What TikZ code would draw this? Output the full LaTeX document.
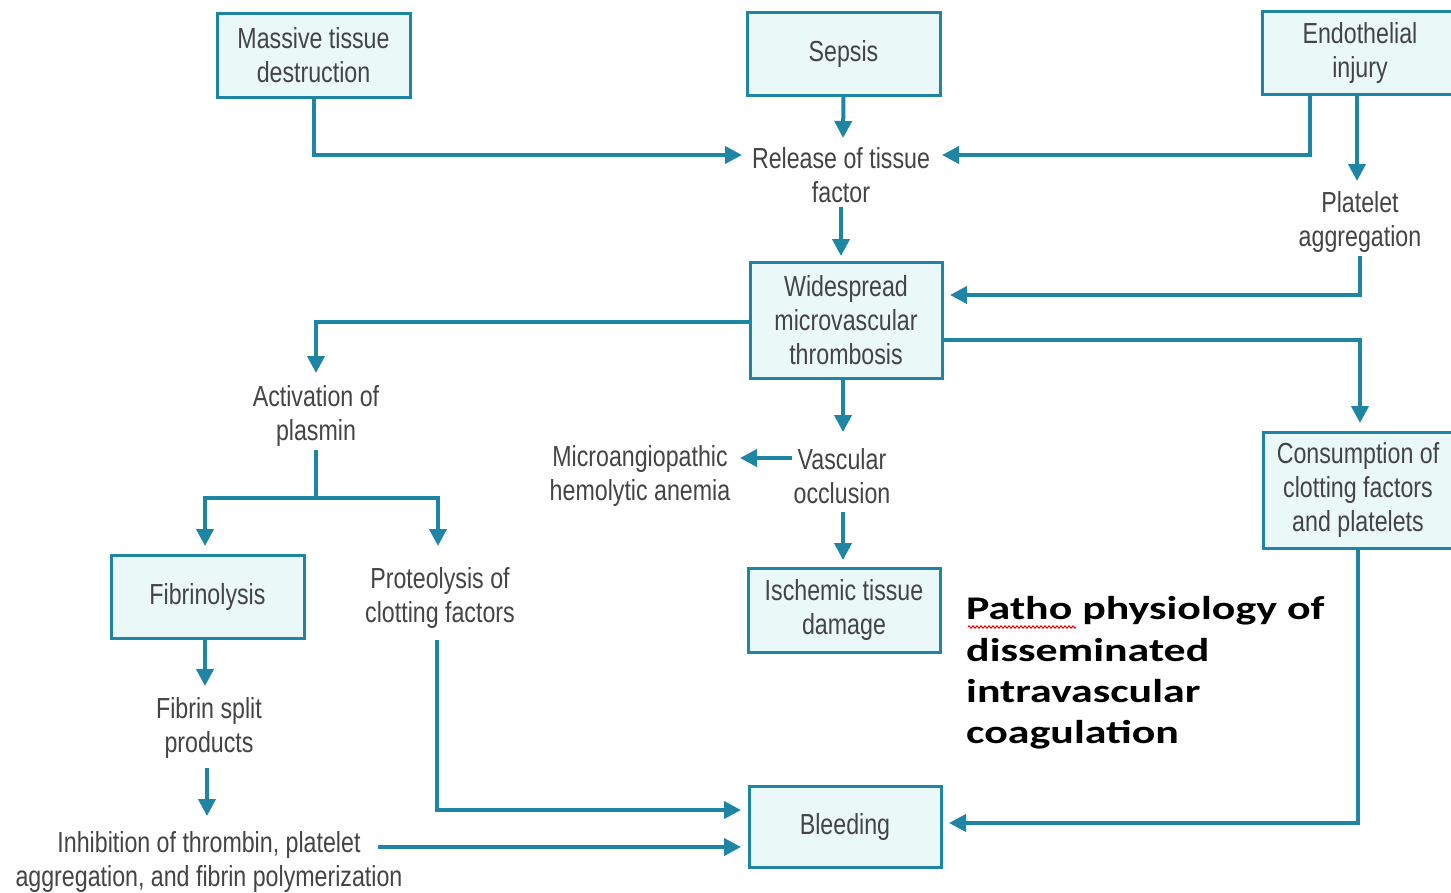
\documentclass[tikz,border=0pt]{standalone}
\usepackage{fontspec}
\usetikzlibrary{arrows.meta,decorations.pathmorphing}
\newfontfamily\bodyfont[FakeStretch=0.8]{Liberation Sans}
\newfontfamily\titlefont[FakeStretch=1.33]{Carlito}
\definecolor{linecol}{RGB}{30,134,164}
\definecolor{boxfill}{RGB}{234,248,248}
\definecolor{txtcol}{RGB}{68,68,68}
\begin{document}
\begin{tikzpicture}[x=1pt,y=-1pt,
  box/.style={draw=linecol,line width=3pt,fill=boxfill,inner sep=0pt,align=center,text=txtcol,
    font=\bodyfont\fontsize{29}{34}\selectfont},
  lbl/.style={inner sep=0pt,align=center,text=txtcol,font=\bodyfont\fontsize{29}{34}\selectfont},
  conn/.style={draw=linecol,line width=4pt,-{Triangle[length=17pt,width=17pt]}},
  plain/.style={draw=linecol,line width=4pt},
  ttl/.style={inner sep=0pt,anchor=base west,text=black,font=\titlefont\bfseries\fontsize{33}{41}\selectfont}]
\useasboundingbox[fill=white] (0,0) rectangle (1451,892);

% boxes
\node[box,minimum width=193pt,minimum height=84pt] (mass) at (313.5,55) {Massive tissue\\destruction};
\node[box,minimum width=193pt,minimum height=83pt] (seps) at (843.5,53.5) {Sepsis};
\node[box,minimum width=196pt,minimum height=83pt] (endo) at (1360,52.5) {Endothelial\\injury};
\node[box,minimum width=192pt,minimum height=116pt] (wid) at (846,320) {Widespread\\microvascular\\thrombosis};
\node[box,minimum width=190pt,minimum height=116pt] (cons) at (1358,490) {Consumption of\\clotting factors\\and platelets};
\node[box,minimum width=193pt,minimum height=83pt] (fib) at (207.5,596.5) {Fibrinolysis};
\node[box,minimum width=192pt,minimum height=84pt] (isch) at (844,610) {Ischemic tissue\\damage};
\node[box,minimum width=192pt,minimum height=81pt] (ble) at (845,826.5) {Bleeding};

% labels
\node[lbl] (rel) at (841,175) {Release of tissue\\factor};
\node[lbl] (plat) at (1360,222) {Platelet\\aggregation};
\node[lbl] (act) at (316,416) {Activation of\\plasmin};
\node[lbl] (mic) at (640,476) {Microangiopathic\\hemolytic anemia};
\node[lbl] (vas) at (842,476) {Vascular\\occlusion};
\node[lbl] (pro) at (440,598) {Proteolysis of\\clotting factors};
\node[lbl] (fsp) at (209,728) {Fibrin split\\products};
\node[lbl] (inh) at (209,862) {Inhibition of thrombin, platelet\\aggregation, and fibrin polymerization};

% coordinates
\coordinate (relL) at (742,155);
\coordinate (relT) at (843,138);
\coordinate (relR) at (942,155);
\coordinate (relB) at (841,207);
\coordinate (widT) at (841,256);
\coordinate (endA) at (1310,94);
\coordinate (endB) at (1357,94);
\coordinate (platT) at (1357,181);
\coordinate (platB) at (1360,256);
\coordinate (widR) at (950,295);
\coordinate (widL) at (750,322);
\coordinate (actT) at (316,373);
\coordinate (widR2) at (942,340);
\coordinate (consT) at (1360,423);
\coordinate (widB) at (843,378);
\coordinate (vasT) at (843,432);
\coordinate (vasL) at (792,458);
\coordinate (micR) at (740,458);
\coordinate (vasB) at (843,512);
\coordinate (ischT) at (843,560);
\coordinate (actB) at (316,450);
\coordinate (split) at (316,498);
\coordinate (fibT) at (205,546);
\coordinate (proT) at (438,546);
\coordinate (fibB) at (205,638);
\coordinate (fspT) at (205,686);
\coordinate (fspB) at (207,768);
\coordinate (inhT) at (207,816);
\coordinate (proB) at (437,640);
\coordinate (bleL1) at (741,810);
\coordinate (inhR) at (378,847);
\coordinate (bleL2) at (741,847);
\coordinate (consB) at (1358,548);
\coordinate (bleR) at (949,823);

% connectors
\draw[conn] (mass.south) |- (relL);
\draw[conn] (seps.south) -- (relT);
\draw[conn] (endA) |- (relR);
\draw[conn] (endB) -- (platT);
\draw[conn] (relB) -- (widT);
\draw[conn] (platB) |- (widR);
\draw[conn] (widL) -| (actT);
\draw[conn] (widR2) -| (consT);
\draw[conn] (widB) -- (vasT);
\draw[conn] (vasL) -- (micR);
\draw[conn] (vasB) -- (ischT);
\draw[plain] (actB) -- (split);
\draw[conn] (split) -| (fibT);
\draw[conn] (split) -| (proT);
\draw[conn] (fibB) -- (fspT);
\draw[conn] (fspB) -- (inhT);
\draw[conn] (proB) |- (bleL1);
\draw[conn] (inhR) -- (bleL2);
\draw[conn] (consB) |- (bleR);

% title
\node[ttl] (t1) at (966,619) {Patho physiology of};
\node[ttl] (t2) at (966,661) {disseminated};
\node[ttl] (t3) at (966,702) {intravascular};
\node[ttl] (t4) at (966,743) {coagulation};
\draw[red,line width=1pt,decorate,decoration={zigzag,amplitude=1.2pt,segment length=4pt}] (968,627) -- (1076,627);
\end{tikzpicture}
\end{document}
